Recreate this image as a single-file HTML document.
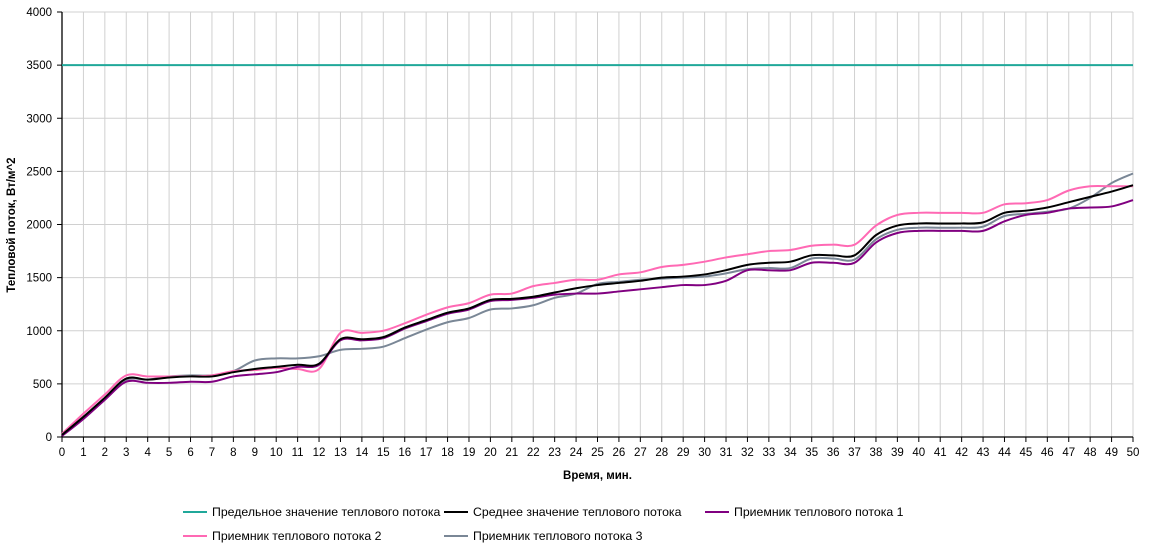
<!DOCTYPE html>
<html><head><meta charset="utf-8"><style>
body{margin:0;background:#fff;font-family:"Liberation Sans",sans-serif}
</style></head><body>
<svg id="c" width="1149" height="553" style="display:block"></svg>
<script>
const minutes=[...Array(51).keys()];
const yTicks=[0,500,1000,1500,2000,2500,3000,3500,4000];
const limitValue=3500;
const meanVals=[20,190,370,550,540,560,570,570,610,640,660,680,690,920,920,940,1030,1100,1170,1210,1290,1300,1320,1360,1400,1430,1450,1470,1500,1510,1530,1570,1620,1640,1650,1710,1710,1710,1900,1990,2010,2010,2010,2020,2110,2130,2160,2210,2260,2310,2370];
const p1Vals=[10,170,350,520,510,510,520,520,570,590,610,660,680,910,910,930,1020,1090,1160,1200,1280,1290,1310,1340,1350,1350,1370,1390,1410,1430,1430,1470,1570,1570,1570,1640,1640,1640,1830,1920,1940,1940,1940,1940,2030,2090,2110,2150,2160,2170,2230];
const p2Vals=[30,220,400,580,570,570,570,580,620,630,650,640,640,980,980,1000,1070,1150,1220,1260,1340,1350,1420,1450,1480,1480,1530,1550,1600,1620,1650,1690,1720,1750,1760,1800,1810,1810,1990,2090,2110,2110,2110,2110,2190,2200,2230,2320,2360,2360,2360];
const p3Vals=[20,180,360,540,540,570,580,580,620,720,740,740,760,820,830,850,930,1010,1080,1120,1200,1210,1240,1310,1350,1440,1460,1480,1490,1500,1510,1540,1580,1590,1590,1680,1680,1670,1860,1950,1970,1970,1970,1980,2080,2100,2120,2150,2250,2390,2480];

const NS='http://www.w3.org/2000/svg',svg=document.getElementById('c');
const X0=62,X1=1133,Y0=437,Y1=12;
const xs=m=>X0+(X1-X0)*m/50, ys=v=>Y0-(Y0-Y1)*v/4000;
function mk(t,a,p){const e=document.createElementNS(NS,t);for(const k in a)e.setAttribute(k,a[k]);(p||svg).appendChild(e);return e;}
minutes.forEach(m=>{if(m>0){const g=mk('line',{x1:xs(m),x2:xs(m),y1:Y1,y2:Y0,stroke:'#d0d0d0','stroke-width':1});

}});
yTicks.forEach(v=>{if(v>0){const g=mk('line',{x1:X0,x2:X1,y1:ys(v),y2:ys(v),stroke:'#d0d0d0','stroke-width':1});

}
const t=mk('text',{x:X0-10,y:ys(v)+4,'text-anchor':'end','font-size':11.5,fill:'#000'});t.textContent=v;


mk('line',{x1:X0-5,x2:X0,y1:ys(v),y2:ys(v),stroke:'#000'});});
mk('line',{x1:X0,x2:X0,y1:Y1,y2:Y0,stroke:'#000','stroke-width':1.3});
mk('line',{x1:X0,x2:X1,y1:Y0,y2:Y0,stroke:'#000','stroke-width':1.3});
minutes.forEach(m=>{mk('line',{x1:xs(m),x2:xs(m),y1:Y0,y2:Y0+5,stroke:'#000'});
const t=mk('text',{x:xs(m),y:Y0+19,'text-anchor':'middle','font-size':11.5,fill:'#000'});t.textContent=m;

});
const xt=mk('text',{x:(X0+X1)/2,y:479,'text-anchor':'middle','font-size':11.5,'font-weight':'bold'});xt.textContent='Время, мин.';


const yt=mk('text',{x:15,y:225,'text-anchor':'middle','font-size':11.5,'font-weight':'bold',transform:'rotate(-90 15 225)'});yt.textContent='Тепловой поток, Вт/м^2';


function path(vals){const p=vals.map((v,i)=>[xs(minutes[i]),ys(v)]);let d='M'+p[0][0]+','+p[0][1];
for(let i=0;i<p.length-1;i++){const a=p[Math.max(0,i-1)],b=p[i],c=p[i+1],e=p[Math.min(p.length-1,i+2)];
d+=` C${b[0]+(c[0]-a[0])/6},${b[1]+(c[1]-a[1])/6} ${c[0]-(e[0]-b[0])/6},${c[1]-(e[1]-b[1])/6} ${c[0]},${c[1]}`;}return d;}
const lim=mk('line',{x1:X0,x2:X1,y1:ys(limitValue),y2:ys(limitValue),stroke:'#20a89a','stroke-width':2});


const series=[[p3Vals,'#7a8796','series-receiver-3'],[p2Vals,'#ff69b4','series-receiver-2'],[p1Vals,'#800080','series-receiver-1'],[meanVals,'#000','series-mean']];
series.forEach(s=>{const e=mk('path',{d:path(s[0]),fill:'none',stroke:s[1],'stroke-width':2});

});
const leg=[[183,512,'#20a89a','Предельное значение теплового потока'],[444,512,'#000','Среднее значение теплового потока'],[705,512,'#800080','Приемник теплового потока 1'],[183,536,'#ff69b4','Приемник теплового потока 2'],[444,536,'#7a8796','Приемник теплового потока 3']];
leg.forEach(l=>{const g=mk('g',{});


mk('line',{x1:l[0],x2:l[0]+24,y1:l[1],y2:l[1],stroke:l[2],'stroke-width':2},g);
const t=mk('text',{x:l[0]+29,y:l[1]+4,'font-size':12.3},g);t.textContent=l[3];});
</script>
</body></html>
